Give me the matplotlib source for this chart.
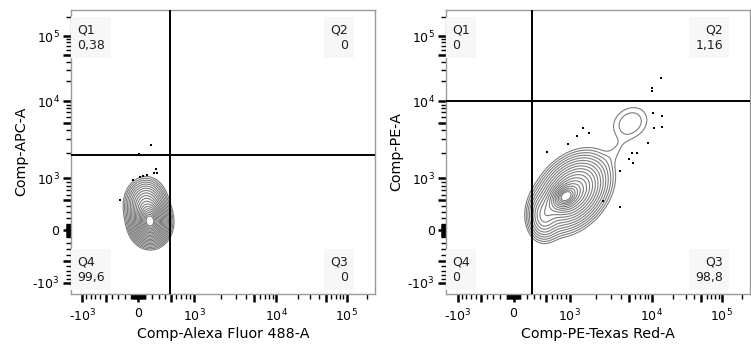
import numpy as np
import matplotlib
matplotlib.use('Agg')
import matplotlib.pyplot as plt
from matplotlib.ticker import FixedLocator, FixedFormatter

# ---------------- data ----------------
# biexponential (logicle) axis parameters
T_TOP = 262144.0
M_DEC = 4.5
W_LIN = 1.0

major_ticks = [-1000, -500, 0, 500, 1000, 5000, 10000, 50000, 100000]
major_labels = ['-$10^{3}$', '', '0', '', '$10^{3}$', '', '$10^{4}$', '', '$10^{5}$']
minor_ticks = ([-k * 100 for k in range(1, 10) if k != 5] + [-k * 10 for k in range(1, 10)] +
               [k * 10 for k in range(1, 10)] + [k * 100 for k in range(1, 10) if k != 5] +
               [k * 1000 for k in range(2, 10) if k != 5] +
               [k * 10000 for k in range(2, 10) if k != 5] + [200000])

left_xlabel = 'Comp-Alexa Fluor 488-A'
left_ylabel = 'Comp-APC-A'
right_xlabel = 'Comp-PE-Texas Red-A'
right_ylabel = 'Comp-PE-A'

left_gate_x, left_gate_y = 490, 1900
right_gate_x, right_gate_y = 270, 10000

quad_names = ['Q1', 'Q2', 'Q3', 'Q4']
left_quad_values = ['0,38', '0', '0', '99,6']
right_quad_values = ['0', '1,16', '98,8', '0']

# populations: centre x, centre y (data units), spread x, spread y (display fraction), corr, weight
left_pop_cx = [175, 110]
left_pop_cy = [125, 420]
left_pop_sx = [0.027, 0.030]
left_pop_sy = [0.034, 0.040]
left_pop_rho = [0.0, 0.0]
left_pop_w = [1.0, 0.45]

right_pop_cx = [1074, 860, 454, 3466, 5172]
right_pop_cy = [649, 556, 213, 2101, 4927]
right_pop_sx = [0.052, 0.025, 0.025, 0.025, 0.045]
right_pop_sy = [0.058, 0.025, 0.040, 0.030, 0.045]
right_pop_rho = [0.35, 0.3, 0.0, 0.5, 0.2]
right_pop_w = [1.0, 0.15, 0.10, 0.004, 0.035]

# outlier events (data units)
left_out_x = [10, 180, 259, 280, -72, 25, 70, 130, -268, 230]
left_out_y = [1960, 2550, 1275, 1155, 951, 1040, 1060, 1090, 500, 1140]
right_out_x = [13300, 10000, 10200, 5680, 10500, 14000, 14000, 10800, 8800, 5400,
               6300, 5700, 5000, 3850, 2370, 3850, 1420, 1660, 1220, 951, 520]
right_out_y = [22200, 15700, 14300, 10300, 6900, 6200, 4300, 4180, 2700, 2030,
               2030, 1510, 1690, 1230, 485, 370, 4180, 3640, 3320, 2600, 2050]


# ---------------- logicle transform ----------------
def logicle_S(y):
    b = M_DEC * np.log(10)
    w = W_LIN / M_DEC
    x1 = w
    x0 = 2 * w
    lo, hi = 1e-9, b
    for _ in range(200):
        d = 0.5 * (lo + hi)
        fv = 2 * (np.log(d) - np.log(b)) + w * (b + d)
        if fv > 0:
            hi = d
        else:
            lo = d
    ca = np.exp(x0 * (b + d))
    mfa = np.exp(b * x1) - ca * np.exp(-d * x1)
    a = T_TOP / ((np.exp(b) - mfa) - ca * np.exp(-d))
    c = ca * a
    f = -mfa * a
    y = np.asarray(y, dtype=float)
    yy = np.where(y >= x1, y, 2 * x1 - y)
    val = a * np.exp(b * yy) - c * np.exp(-d * yy) + f
    return np.where(y >= x1, val, -val)


_TY = np.linspace(-0.2, 1.2, 80001)
_TS = logicle_S(_TY)


def fwd(x):
    return np.interp(np.asarray(x, dtype=float), _TS, _TY)


def inv(y):
    return logicle_S(y)


def density(cx, cy, sx, sy, rho, w, GX, GY):
    Z = np.zeros_like(GX)
    for i in range(len(cx)):
        mx, my = fwd(cx[i]), fwd(cy[i])
        u = (GX - mx) / sx[i]
        v = (GY - my) / sy[i]
        r = rho[i]
        q = (u * u - 2 * r * u * v + v * v) / (1 - r * r)
        Z += w[i] / (sx[i] * sy[i] * np.sqrt(1 - r * r)) * np.exp(-q / 2)
    return Z


# ---------------- figure ----------------
W_PX, H_PX = 751, 354
fig = plt.figure(figsize=(W_PX / 100, H_PX / 100), dpi=100)

ax_w = 304.3 / W_PX
ax_h = 284 / H_PX
ax_b = (H_PX - 293.5) / H_PX
axL = fig.add_axes([70.7 / W_PX, ax_b, ax_w, ax_h])
axR = fig.add_axes([446 / W_PX, ax_b, ax_w, ax_h])

g = np.linspace(0, 1, 500)
GX, GY = np.meshgrid(g, g)
DX, DY = inv(GX), inv(GY)

panels = [
    (axL, left_pop_cx, left_pop_cy, left_pop_sx, left_pop_sy, left_pop_rho, left_pop_w,
     left_out_x, left_out_y, left_gate_x, left_gate_y, left_quad_values,
     left_xlabel, left_ylabel, 19),
    (axR, right_pop_cx, right_pop_cy, right_pop_sx, right_pop_sy, right_pop_rho, right_pop_w,
     right_out_x, right_out_y, right_gate_x, right_gate_y, right_quad_values,
     right_xlabel, right_ylabel, 18),
]

FS = 9
for (ax, cx, cy, sx, sy, rho, w, ox, oy, gx, gy, qv, xl, yl, nlev) in panels:
    ax.set_xscale('function', functions=(fwd, inv))
    ax.set_yscale('function', functions=(fwd, inv))
    lo_v, hi_v = float(inv(0.0)), float(inv(1.0))
    ax.set_xlim(lo_v, hi_v)
    ax.set_ylim(lo_v, hi_v)

    Z = density(cx, cy, sx, sy, rho, w, GX, GY)
    rr = np.linspace(0.45, 2.9, nlev)
    levels = np.sort(Z.max() * np.exp(-rr ** 2 / 2))
    ax.contour(DX, DY, Z, levels=levels, colors='#7d7d7d', linewidths=0.8)

    ax.scatter(ox, oy, s=0.7, c='black', marker='s', linewidths=0, zorder=3)

    ax.axvline(gx, color='black', lw=1.4, zorder=4)
    ax.axhline(gy, color='black', lw=1.4, zorder=4)

    for axis in (ax.xaxis, ax.yaxis):
        axis.set_major_locator(FixedLocator(major_ticks))
        axis.set_major_formatter(FixedFormatter(major_labels))
        axis.set_minor_locator(FixedLocator(minor_ticks))
        axis.set_minor_formatter(FixedFormatter([''] * len(minor_ticks)))
    ax.tick_params(which='major', direction='out', length=5.5, width=1.8, color='black',
                   labelsize=FS, pad=2.5)
    ax.tick_params(which='minor', direction='out', length=3.5, width=1.0, color='black')
    ax.tick_params(axis='x', which='major', pad=4.5)

    for sp in ax.spines.values():
        sp.set_color('#9a9a9a')
        sp.set_linewidth(1.0)

    ax.set_xlabel(xl, fontsize=10.3, labelpad=2)
    ax.set_ylabel(yl, fontsize=10.3, labelpad=3)

    bb = dict(facecolor='#f7f7f7', edgecolor='none', pad=4.5)
    tc = '#1e1e1e'
    ax.text(0.02, 0.952, quad_names[0] + '\n' + qv[0], transform=ax.transAxes, ha='left',
            va='top', fontsize=FS, color=tc, linespacing=1.25, bbox=bb, zorder=5)
    ax.text(0.911, 0.952, quad_names[1] + '\n' + qv[1], transform=ax.transAxes, ha='right',
            va='top', fontsize=FS, color=tc, linespacing=1.25, multialignment='right',
            bbox=bb, zorder=5)
    ax.text(0.911, 0.035, quad_names[2] + '\n' + qv[2], transform=ax.transAxes, ha='right',
            va='bottom', fontsize=FS, color=tc, linespacing=1.25, multialignment='right',
            bbox=bb, zorder=5)
    ax.text(0.02, 0.035, quad_names[3] + '\n' + qv[3], transform=ax.transAxes, ha='left',
            va='bottom', fontsize=FS, color=tc, linespacing=1.25, bbox=bb, zorder=5)

fig.savefig('out.png', dpi=100)
